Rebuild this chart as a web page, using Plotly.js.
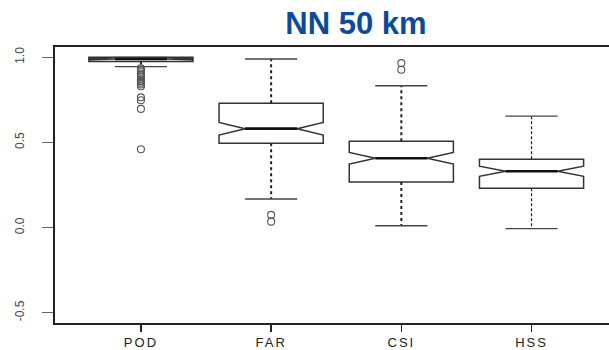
<!DOCTYPE html>
<html>
<head>
<meta charset="utf-8">
<script src="https://cdn.plot.ly/plotly-3.0.1.min.js"></script>
<style>
html, body { margin: 0; padding: 0; background: #fff; }
#chart { width: 609px; height: 350px; }
.xtick text { letter-spacing: 2px; }
</style>
</head>
<body>
<div id="chart"></div>
<script>
// ---- data ----
const categories = ['POD', 'FAR', 'CSI', 'HSS'];
const q1Vals = [0.975, 0.495, 0.268, 0.231];
const medianVals = [0.990, 0.581, 0.407, 0.331];
const q3Vals = [1.000, 0.730, 0.507, 0.401];
const lowerWhisker = [0.945, 0.168, 0.011, -0.006];
const upperWhisker = [1.000, 0.990, 0.833, 0.655];
const notchSpan = [0.004, 0.037, 0.034, 0.030];
const outliersPOD = [0.935, 0.925, 0.915, 0.905, 0.895, 0.885, 0.870, 0.860, 0.850, 0.840, 0.830, 0.765, 0.748, 0.697, 0.460];
const outliersFAR = [0.075, 0.035];
const outliersCSI = [0.966, 0.927];
const outliersHSS = [];
const yTickVals = [-0.5, 0.0, 0.5, 1.0];
const yTickText = ['-0.5', '0.0', '0.5', '1.0'];

const positions = categories.map((c, i) => i + 1);
const outliers = [outliersPOD, outliersFAR, outliersCSI, outliersHSS];

const boxWidth = 0.8;
const capHalf = boxWidth / 4;       // whisker caps are half the box width
const notchHalf = boxWidth / 4;     // median spans the notch
const whiskerStyle = [
  {dash: 'dot', width: 2},
  {dash: 'dot', width: 2},
  {dash: 'dot', width: 2},
  {dash: '3px,2px', width: 1.2}
];

const traces = [];

// notched boxes (whiskers drawn separately)
traces.push({
  type: 'box',
  x: positions,
  q1: q1Vals,
  median: medianVals,
  q3: q3Vals,
  lowerfence: q1Vals,
  upperfence: q3Vals,
  notched: true,
  notchspan: notchSpan,
  notchwidth: 0.25,
  whiskerwidth: 0,
  width: boxWidth,
  boxpoints: false,
  fillcolor: 'rgba(0,0,0,0)',
  line: {color: '#333333', width: 1.5},
  hoverinfo: 'skip',
  showlegend: false
});

// whiskers
positions.forEach((p, i) => {
  traces.push({
    type: 'scatter', mode: 'lines',
    x: [p, p, null, p, p],
    y: [q3Vals[i], upperWhisker[i], null, q1Vals[i], lowerWhisker[i]],
    line: {color: '#222222', width: whiskerStyle[i].width, dash: whiskerStyle[i].dash},
    hoverinfo: 'skip', showlegend: false
  });
});

// whisker caps
const capX = [], capY = [];
positions.forEach((p, i) => {
  capX.push(p - capHalf, p + capHalf, null, p - capHalf, p + capHalf, null);
  capY.push(upperWhisker[i], upperWhisker[i], null, lowerWhisker[i], lowerWhisker[i], null);
});
traces.push({
  type: 'scatter', mode: 'lines', x: capX, y: capY,
  line: {color: '#444444', width: 1.3},
  hoverinfo: 'skip', showlegend: false
});

// thick medians
const medX = [], medY = [];
positions.forEach((p, i) => {
  medX.push(p - notchHalf, p + notchHalf, null);
  medY.push(medianVals[i], medianVals[i], null);
});
traces.push({
  type: 'scatter', mode: 'lines', x: medX, y: medY,
  line: {color: '#111111', width: 2.6},
  hoverinfo: 'skip', showlegend: false
});

// outliers
const outX = [], outY = [];
outliers.forEach((arr, i) => {
  arr.forEach(v => { outX.push(positions[i]); outY.push(v); });
});
traces.push({
  type: 'scatter', mode: 'markers', x: outX, y: outY,
  marker: {symbol: 'circle-open', size: 7, color: '#555555', line: {width: 1.1}},
  hoverinfo: 'skip', showlegend: false
});

const layout = {
  width: 609,
  height: 350,
  margin: {l: 55, r: 0, t: 47, b: 27, pad: 0},
  paper_bgcolor: '#ffffff',
  plot_bgcolor: '#ffffff',
  showlegend: false,
  title: {
    text: 'NN 50 km',
    font: {family: 'Liberation Sans, Arial, sans-serif', size: 31, color: '#0d4a9b', weight: 'bold'},
    xref: 'container', x: 356 / 609, xanchor: 'center',
    yref: 'container', y: 1 - 23 / 350, yanchor: 'middle'
  },
  xaxis: {
    range: [0.34, 4.595],
    tickvals: positions,
    ticktext: categories,
    showgrid: false, zeroline: false,
    showline: true, mirror: true, linecolor: '#222222', linewidth: 1.6,
    ticks: 'outside', ticklen: 7, tickwidth: 1.5, tickcolor: '#222222',
    tickfont: {family: 'Liberation Sans, Arial, sans-serif', size: 13, color: '#222222'},
    fixedrange: true
  },
  yaxis: {
    range: [-0.56, 1.0605],
    tickvals: yTickVals,
    ticktext: yTickText,
    tickangle: -90,
    showgrid: false, zeroline: false,
    showline: true, mirror: false, linecolor: '#222222', linewidth: 1.6,
    ticks: 'outside', ticklen: 11, tickwidth: 1, tickcolor: '#666666',
    ticklabelstandoff: 14,
    tickfont: {family: 'Liberation Sans, Arial, sans-serif', size: 12, color: '#444444'},
    fixedrange: true
  }
};

Plotly.newPlot('chart', traces, layout, {staticPlot: true, displayModeBar: false});
</script>
</body>
</html>
